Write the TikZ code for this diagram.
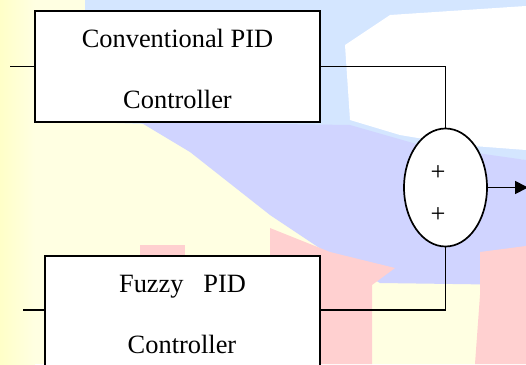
\documentclass[tikz,border=0pt]{standalone}
\usepackage{fontspec}
\setmainfont{Liberation Serif}
\usetikzlibrary{shapes.geometric,arrows.meta}
\definecolor{bgyel}{HTML}{FFFFE2}
\definecolor{bgyel2}{HTML}{FFFFC8}
\definecolor{bgblue}{HTML}{D0D4FF}
\definecolor{bgsky}{HTML}{D4E6FF}
\definecolor{bgpink}{HTML}{FFD0D0}
\begin{document}
\begin{tikzpicture}[x=1pt,y=-1pt,line width=1.7pt,
  blk/.style={draw=black,fill=white,inner sep=0pt,line width=1.7pt},
  lbl/.style={anchor=base,inner sep=0pt,font=\fontsize{26.4}{30}\selectfont},
  sumnode/.style={draw=black,fill=white,ellipse,inner sep=0pt,minimum width=83pt,minimum height=118pt,line width=1.7pt},
  wire/.style={draw=black,line width=1.7pt},
  arr/.style={wire,-{Triangle[length=13pt,width=13pt]}}]
\useasboundingbox (0,0) rectangle (526,364);
\clip (0,0) rectangle (526,364);
% background watermark
\fill[bgyel] (0,0) rectangle (526,364);
\shade[left color=bgyel2,right color=bgyel] (0,0) rectangle (35,364);
\fill[bgsky] (85,0) -- (526,0) -- (526,160) -- (400,150) -- (340,130) -- (85,122) -- cycle;
\fill[white] (345,45) -- (390,15) -- (526,6) -- (526,150) -- (460,145) -- (400,135) -- (350,120) -- cycle;
\fill[bgblue] (140,122) -- (350,125) -- (420,145) -- (526,160) -- (526,285) -- (380,283) -- (330,255) -- (270,215) -- (190,152) -- cycle;
\fill[bgpink] (270,228) -- (330,252) -- (395,268) -- (372,285) -- (372,364) -- (300,364) -- (300,256) -- (270,256) -- cycle;
\fill[bgpink] (480,252) -- (526,246) -- (526,364) -- (475,364) -- (480,295) -- cycle;
\fill[bgpink] (140,245) rectangle (185,256);
% diagram
\node[blk,minimum width=285pt,minimum height=111pt] (box1) at (177.5,66.5) {};
\node[blk,minimum width=275pt,minimum height=115pt] (box2) at (182.5,313.5) {};
\node[lbl] (t1a) at (177.5,47) {Conventional PID};
\node[lbl] (t1b) at (177.5,108) {Controller};
\node[lbl] (t2a) at (182.5,292) {Fuzzy~~~PID};
\node[lbl] (t2b) at (182,353) {Controller};
\node[sumnode] (sum) at (445.5,187.5) {};
\node[lbl] (p1) at (438,180) {+};
\node[lbl] (p2) at (438,222) {+};
\coordinate (in1) at (10,66.5);
\coordinate (in2) at (23,310);
\coordinate (out) at (528,187.5);
\draw[wire] (in1) -- (box1.west);
\draw[wire] (in2) -- ([yshift=3.5pt]box2.west);
\draw[wire] (box1.east) -| (sum.north);
\draw[wire] ([yshift=3.5pt]box2.east) -| (sum.south);
\draw[arr] (sum.east) -- (out);
\end{tikzpicture}
\end{document}
